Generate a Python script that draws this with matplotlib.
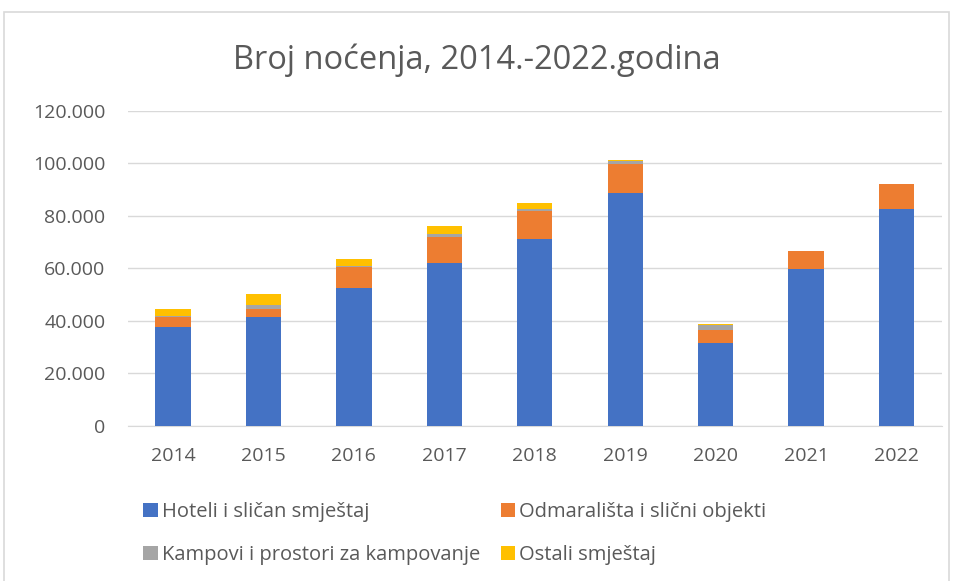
import matplotlib
matplotlib.use('Agg')
import matplotlib.pyplot as plt
from matplotlib.patches import Rectangle
from matplotlib.ticker import FuncFormatter
import numpy as np

years = ['2014', '2015', '2016', '2017', '2018', '2019', '2020', '2021', '2022']
hoteli = [37800, 41300, 52700, 61900, 71400, 88600, 31500, 59600, 82800]
odmaralista = [3600, 3300, 7700, 10000, 10300, 11300, 4900, 6900, 9400]
kampovi = [500, 1300, 600, 1400, 1000, 1000, 2100, 0, 0]
ostali = [2800, 4400, 2500, 3000, 2200, 400, 300, 0, 0]

series = [('Hoteli i sličan smještaj', hoteli, '#4472C4'),
          ('Odmarališta i slični objekti', odmaralista, '#ED7D31'),
          ('Kampovi i prostori za kampovanje', kampovi, '#A5A5A5'),
          ('Ostali smještaj', ostali, '#FFC000')]

plt.rcParams['font.family'] = ['Open Sans', 'DejaVu Sans']
TXT = '#595959'

fig = plt.figure(figsize=(9.54, 5.81), dpi=100)
ax = fig.add_axes([0.134, 0.267, 0.853, 0.542])
fig.patches.append(Rectangle((4 / 954, -0.01), 945 / 954, 1 - 12 / 581 + 0.01,
                             transform=fig.transFigure, fill=False,
                             edgecolor='#d9d9d9', lw=1.2))

x = np.arange(len(years))
bottom = np.zeros(len(years))
handles = {}
for name, vals, col in series:
    v = np.array(vals, dtype=float)
    handles[name] = ax.bar(x, v, 0.39, bottom=bottom, color=col, label=name, zorder=3)
    bottom += v

ax.set_xlim(-0.5, 8.5)
ax.set_ylim(0, 120000)
ax.set_yticks(range(0, 120001, 20000))
ax.yaxis.set_major_formatter(FuncFormatter(lambda v, p: f'{int(v):,}'.replace(',', '.')))
ax.set_xticks(x, years)
ax.grid(axis='y', color='#d9d9d9', lw=1, zorder=0)
for s in ['top', 'right', 'left']:
    ax.spines[s].set_visible(False)
ax.spines['bottom'].set_color('#d9d9d9')
ax.tick_params(axis='both', length=0, labelsize=14, colors=TXT)
ax.tick_params(axis='x', pad=15)
ax.tick_params(axis='y', pad=16)

fig.text(0.5, 1 - 60 / 581, 'Broj noćenja, 2014.-2022.godina', ha='center', va='center',
         fontsize=23.5, color=TXT)

order = ['Hoteli i sličan smještaj', 'Kampovi i prostori za kampovanje',
         'Odmarališta i slični objekti', 'Ostali smještaj']
leg = fig.legend([handles[n] for n in order], order, ncol=2, loc='upper left',
                 bbox_to_anchor=(143 / 954, 1 - 502 / 581), frameon=False,
                 borderpad=0, borderaxespad=0,
                 fontsize=14.5, handlelength=0.72, handleheight=0.72, handletextpad=0.2,
                 columnspacing=1.05, labelspacing=1.15)
for t in leg.get_texts():
    t.set_color(TXT)

fig.savefig('out.png', dpi=100)
